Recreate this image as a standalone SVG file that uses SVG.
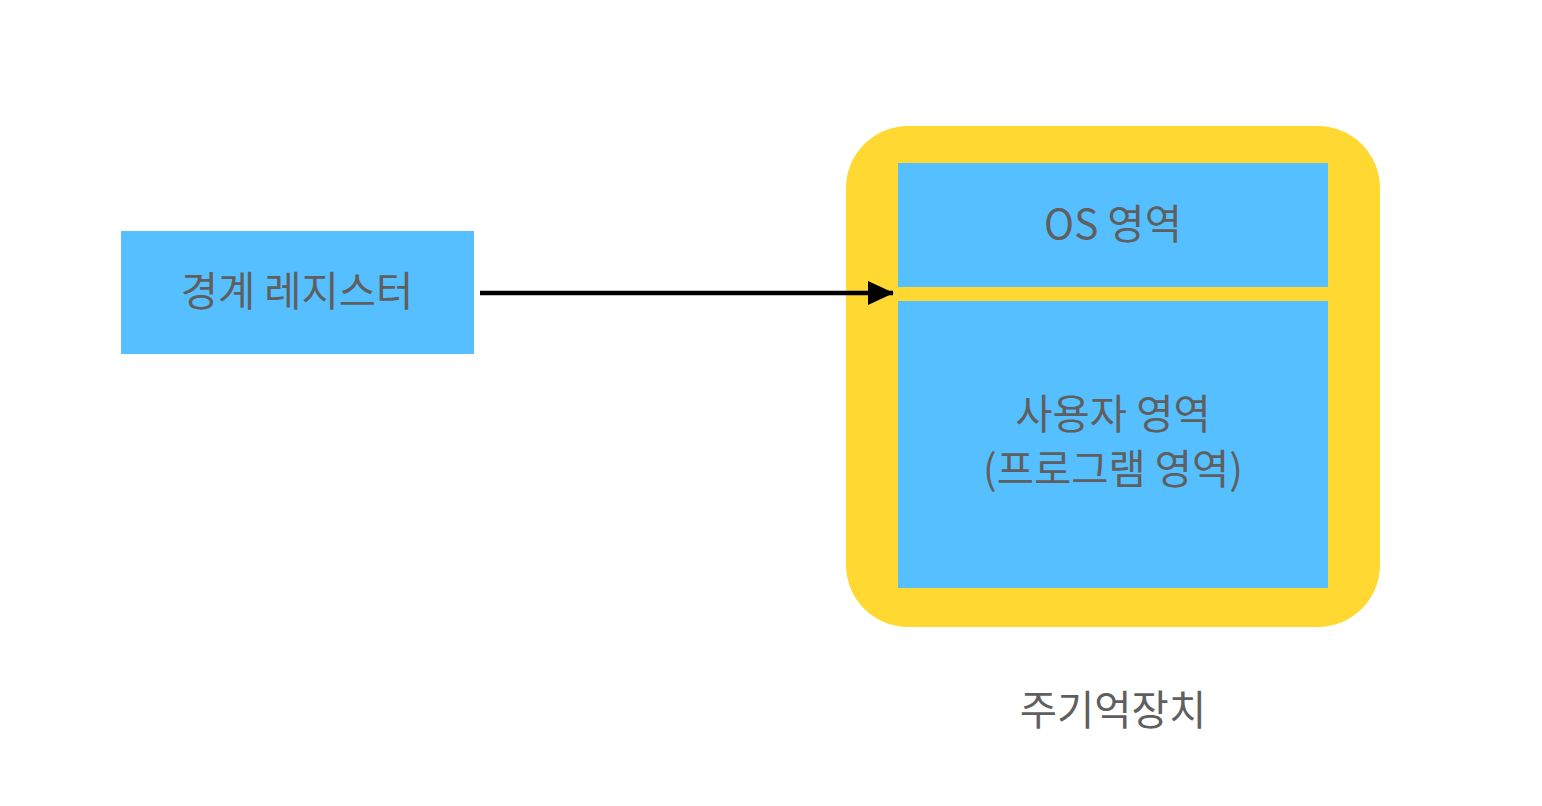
<svg xmlns="http://www.w3.org/2000/svg" width="1542" height="806" viewBox="0 0 1542 806">
  <defs>
    <style>
      .box { fill: #55BFFF; }
      .label { font-family: "Noto Sans CJK KR", "Noto Sans", sans-serif; font-size: 40.5px; fill: #5F5F5F; text-anchor: middle; }
    </style>
    <marker id="arrow" markerWidth="6" markerHeight="6" refX="5.6" refY="3" orient="auto" markerUnits="strokeWidth" viewBox="0 0 6 6">
      <path d="M0,0.3 L5.8,3 L0,5.7 Z" fill="#000"/>
    </marker>
  </defs>
  <rect width="1542" height="806" fill="#FFFFFF"/>
  <g id="memory">
    <rect x="846" y="126" width="534" height="501" rx="62" ry="62" fill="#FFD932"/>
    <text class="label" x="1113" y="725">주기억장치</text>
  </g>
  <g id="os-area">
    <rect class="box" x="898" y="163" width="430" height="124"/>
    <text class="label" x="1113" y="239">OS 영역</text>
  </g>
  <g id="user-area">
    <rect class="box" x="898" y="301" width="430" height="287"/>
    <text class="label" x="1113" y="429">사용자 영역</text>
    <text class="label" x="1113" y="484">(프로그램 영역)</text>
  </g>
  <g id="boundary-register">
    <rect class="box" x="121" y="231" width="353" height="123"/>
    <text class="label" x="297" y="306">경계 레지스터</text>
  </g>
  <g id="connectors">
    <line x1="480" y1="293" x2="893" y2="293" stroke="#000" stroke-width="4.5" marker-end="url(#arrow)"/>
  </g>
</svg>
